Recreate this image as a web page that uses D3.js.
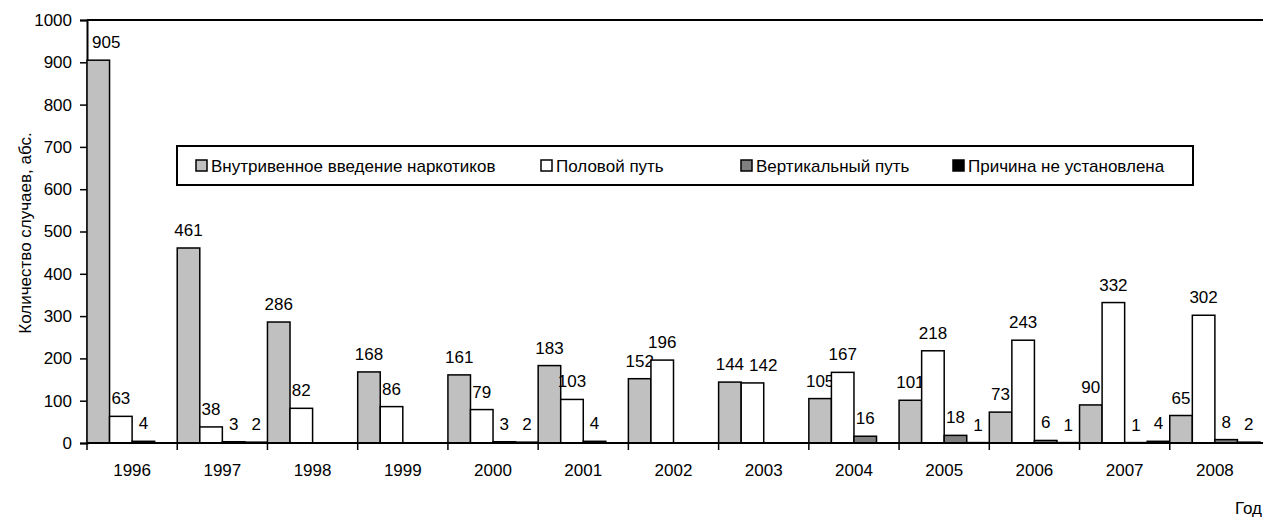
<!DOCTYPE html>
<html>
<head>
<meta charset="utf-8">
<script src="https://cdn.jsdelivr.net/npm/d3@7"></script>
<style>
  body { margin: 0; background: #fff; }
  svg { font-family: Arial, "Liberation Sans", sans-serif; }
</style>
</head>
<body>
<svg width="1263" height="517"></svg>
<script>
// years on x axis
var years = ['1996','1997','1998','1999','2000','2001','2002','2003','2004','2005','2006','2007','2008'];
// series values (null = no bar)
var intravenous = [905, 461, 286, 168, 161, 183, 152, 144, 105, 101, 73, 90, 65];
var sexual      = [63, 38, 82, 86, 79, 103, 196, 142, 167, 218, 243, 332, 302];
var vertical    = [4, 3, null, null, 3, 4, null, null, 16, 18, 6, 1, 8];
var unknown     = [null, 2, null, null, 2, null, null, null, null, 1, 1, 4, 2];
var seriesNames = ['Внутривенное введение наркотиков', 'Половой путь', 'Вертикальный путь', 'Причина не установлена'];
var seriesColors = ['#c0c0c0', '#ffffff', '#808080', '#000000'];
var yTicks = [0, 100, 200, 300, 400, 500, 600, 700, 800, 900, 1000];

var allSeries = [intravenous, sexual, vertical, unknown];

var svg = d3.select('svg');
var fs = '17px';
// plot area edges (note: "top" is reserved on window, so use plotTop)
var plotLeft = 87, plotRight = 1260, plotTop = 20, plotBottom = 443;

var x = d3.scaleBand().domain(years).range([plotLeft, plotRight]).padding(0);
var xSub = d3.scaleBand().domain(d3.range(4)).range([0, x.bandwidth()]).padding(0);
var y = d3.scaleLinear().domain([0, 1000]).range([plotBottom, plotTop]);

// top border line of plot area
svg.append('line')
    .attr('x1', plotLeft).attr('x2', 1263)
    .attr('y1', y(1000)).attr('y2', y(1000))
    .attr('stroke', '#000').attr('stroke-width', 2);

// y axis
var yAxis = svg.append('g')
    .attr('transform', 'translate(' + plotLeft + ',0)')
    .call(d3.axisLeft(y).tickValues(yTicks).tickFormat(d3.format('d')).tickSize(7).tickPadding(8));
yAxis.select('.domain').attr('stroke-width', 2);
yAxis.selectAll('.tick line').attr('stroke-width', 1.5);
yAxis.selectAll('text').style('font-size', fs).attr('fill', '#000');

// bars, one group per year
var groups = svg.append('g')
    .selectAll('g')
    .data(years)
    .enter()
    .append('g')
    .attr('transform', d => 'translate(' + x(d) + ',0)');

var cells = groups.selectAll('g.cell')
    .data((yr, i) => allSeries.map((s, k) => ({k: k, v: s[i], yr: yr})))
    .enter()
    .append('g')
    .attr('class', 'cell');

cells.filter(d => d.v !== null)
    .append('rect')
    .attr('x', d => xSub(d.k))
    .attr('width', xSub.bandwidth())
    .attr('y', d => y(d.v))
    .attr('height', d => plotBottom - y(d.v))
    .attr('fill', d => seriesColors[d.k])
    .attr('stroke', '#000')
    .attr('stroke-width', 1.5);

var labels = cells.filter(d => d.v !== null)
    .append('text')
    .attr('x', d => xSub(d.k) + xSub.bandwidth() / 2)
    .attr('y', d => y(d.v) - 12)
    .attr('text-anchor', 'middle')
    .style('font-size', fs)
    .text(d => d.v);

// nudge labels so they don't run into the axis or each other
groups.each(function(yr){
    var gx = x(yr);
    var prev = null;
    d3.select(this).selectAll('text').each(function(d){
        var t = d3.select(this);
        var w = this.getComputedTextLength();
        var cx = +t.attr('x');
        if (gx + cx - w / 2 < plotLeft + 5) cx = plotLeft + 5 - gx + w / 2;
        if (prev && Math.abs(prev.y - y(d.v)) < 16 && cx - w / 2 < prev.right + 5) {
            cx = prev.right + 5 + w / 2;
        }
        t.attr('x', cx);
        prev = {right: cx + w / 2, y: y(d.v)};
    });
});

// x axis
var xAxis = svg.append('g')
    .attr('transform', 'translate(0,' + plotBottom + ')');
xAxis.append('line')
    .attr('x1', plotLeft).attr('x2', 1263)
    .attr('stroke', '#000').attr('stroke-width', 2);
xAxis.selectAll('line.tk')
    .data(years)
    .enter()
    .append('line')
    .attr('class', 'tk')
    .attr('x1', d => x(d)).attr('x2', d => x(d))
    .attr('y1', 0).attr('y2', 7)
    .attr('stroke', '#000').attr('stroke-width', 1.5);
xAxis.selectAll('text')
    .data(years)
    .enter()
    .append('text')
    .attr('x', d => x(d) + x.bandwidth() / 2)
    .attr('y', 33)
    .attr('text-anchor', 'middle')
    .style('font-size', fs)
    .text(d => d);

// axis titles
svg.append('text')
    .attr('transform', 'translate(31,233) rotate(-90)')
    .attr('text-anchor', 'middle')
    .style('font-size', fs)
    .text('Количество случаев, абс.');

svg.append('text')
    .attr('x', 1262).attr('y', 514)
    .attr('text-anchor', 'end')
    .style('font-size', fs)
    .text('Год');

// legend
var legend = svg.append('g');
legend.append('rect')
    .attr('x', 177).attr('y', 146)
    .attr('width', 1016).attr('height', 39)
    .attr('fill', '#fff').attr('stroke', '#000').attr('stroke-width', 2);
var legendX = [196, 541, 741, 953];
var items = legend.selectAll('g.item')
    .data(seriesNames)
    .enter()
    .append('g')
    .attr('class', 'item')
    .attr('transform', (d, i) => 'translate(' + legendX[i] + ',160)');
items.append('rect')
    .attr('width', 11).attr('height', 11)
    .attr('fill', (d, i) => seriesColors[i])
    .attr('stroke', '#000').attr('stroke-width', 1.5);
items.append('text')
    .attr('x', 15).attr('y', 12)
    .style('font-size', fs)
    .text(d => d);
</script>
</body>
</html>
